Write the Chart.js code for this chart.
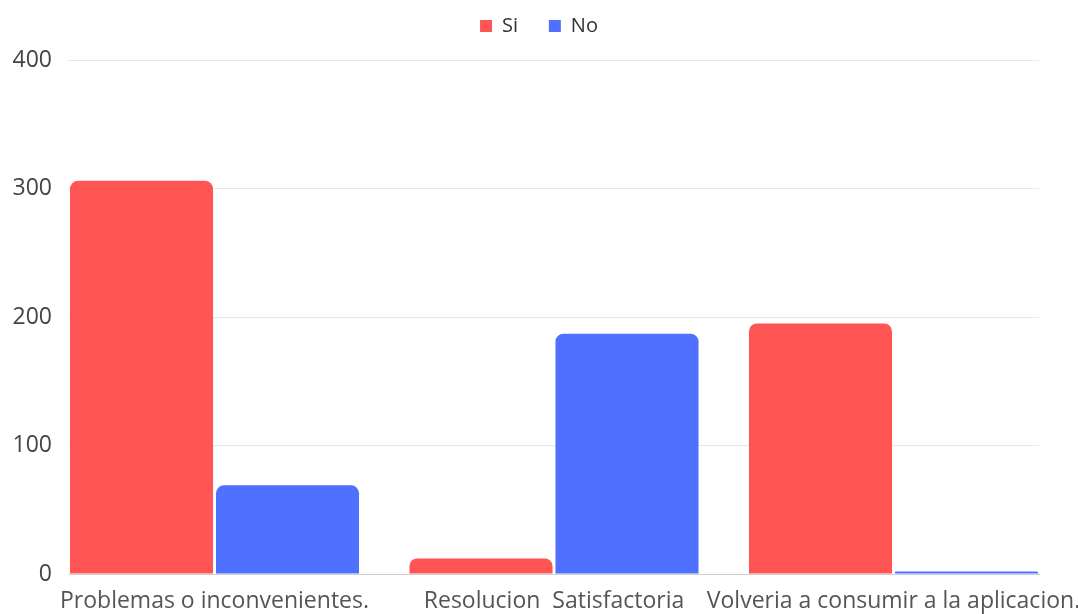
<!DOCTYPE html>
<html>
<head>
<meta charset="utf-8">
<script src="https://cdn.jsdelivr.net/npm/chart.js@4.4.0/dist/chart.umd.min.js"></script>
<style>
  html, body { margin: 0; padding: 0; background: #fff; }
  #wrap { width: 1078px; height: 614px; }
</style>
</head>
<body>
<div id="wrap"><canvas id="chart"></canvas></div>
<script>
// Datos
const categories = ['Problemas o inconvenientes.', 'Resolucion  Satisfactoria', 'Volveria a consumir a la aplicacion.'];
const siValues = [306, 12, 195];
const noValues = [69, 187, 2];
const yTicks = [0, 100, 200, 300, 400];

const RED = '#ff5555';
const BLUE = '#5070ff';

// el eje x es lineal para poder ajustar el margen de las categorias
const toPoints = values => values.map((v, i) => ({ x: i, y: v }));

// deja mas espacio debajo de la leyenda
const legendSpace = {
    id: 'legendSpace',
    beforeInit(chart) {
        const fit = chart.legend.fit;
        chart.legend.fit = function () {
            fit.bind(chart.legend)();
            this.height += 14;
        };
    }
};

new Chart(document.getElementById('chart'), {
    type: 'bar',
    data: {
        datasets: [
            {
                label: 'Si',
                data: toPoints(siValues),
                backgroundColor: RED,
                borderRadius: 8,
                borderSkipped: 'start',
                categoryPercentage: 0.86,
                barPercentage: 0.98
            },
            {
                label: 'No',
                data: toPoints(noValues),
                backgroundColor: BLUE,
                borderRadius: 8,
                borderSkipped: 'start',
                categoryPercentage: 0.86,
                barPercentage: 0.98
            }
        ]
    },
    plugins: [legendSpace],
    options: {
        responsive: true,
        maintainAspectRatio: false,
        animation: false,
        layout: { padding: { left: 0, right: 0, top: 6, bottom: 0 } },
        plugins: {
            legend: {
                position: 'top',
                labels: {
                    boxWidth: 12,
                    boxHeight: 12,
                    padding: 10,
                    color: '#333',
                    font: { family: 'Open Sans', size: 20 },
                    generateLabels: chart => {
                        const items = Chart.defaults.plugins.legend.labels.generateLabels(chart);
                        // separa un poco mas los dos elementos
                        items[0].text = items[0].text + '    ';
                        return items;
                    }
                }
            },
            tooltip: { enabled: false }
        },
        scales: {
            x: {
                type: 'linear',
                min: -3 / 7,
                max: 2 + 3 / 7,
                bounds: 'data',
                offset: false,
                afterBuildTicks: axis => {
                    axis.ticks = categories.map((c, i) => ({ value: i }));
                },
                afterFit: axis => {
                    axis.height = 40;
                    axis.paddingLeft = 0;
                    axis.paddingRight = 39;
                },
                grid: { display: false, offset: false, drawTicks: false },
                border: { display: true, color: '#cfcfcf', width: 1 },
                ticks: {
                    padding: 14,
                    maxRotation: 0,
                    autoSkip: false,
                    color: '#555',
                    font: { family: 'Open Sans', size: 23 },
                    callback: value => categories[value] ?? ''
                }
            },
            y: {
                min: 0,
                max: 400,
                afterBuildTicks: axis => {
                    axis.ticks = yTicks.map(v => ({ value: v }));
                },
                afterFit: axis => { axis.width = 69; },
                grid: {
                    drawTicks: false,
                    color: ctx => ctx.tick && ctx.tick.value === 0 ? '#cfcfcf' : '#e8e8e8',
                    lineWidth: 1
                },
                border: { display: false },
                ticks: {
                    padding: 17,
                    color: '#444',
                    font: { family: 'Open Sans', size: 23 }
                }
            }
        }
    }
});
</script>
</body>
</html>
